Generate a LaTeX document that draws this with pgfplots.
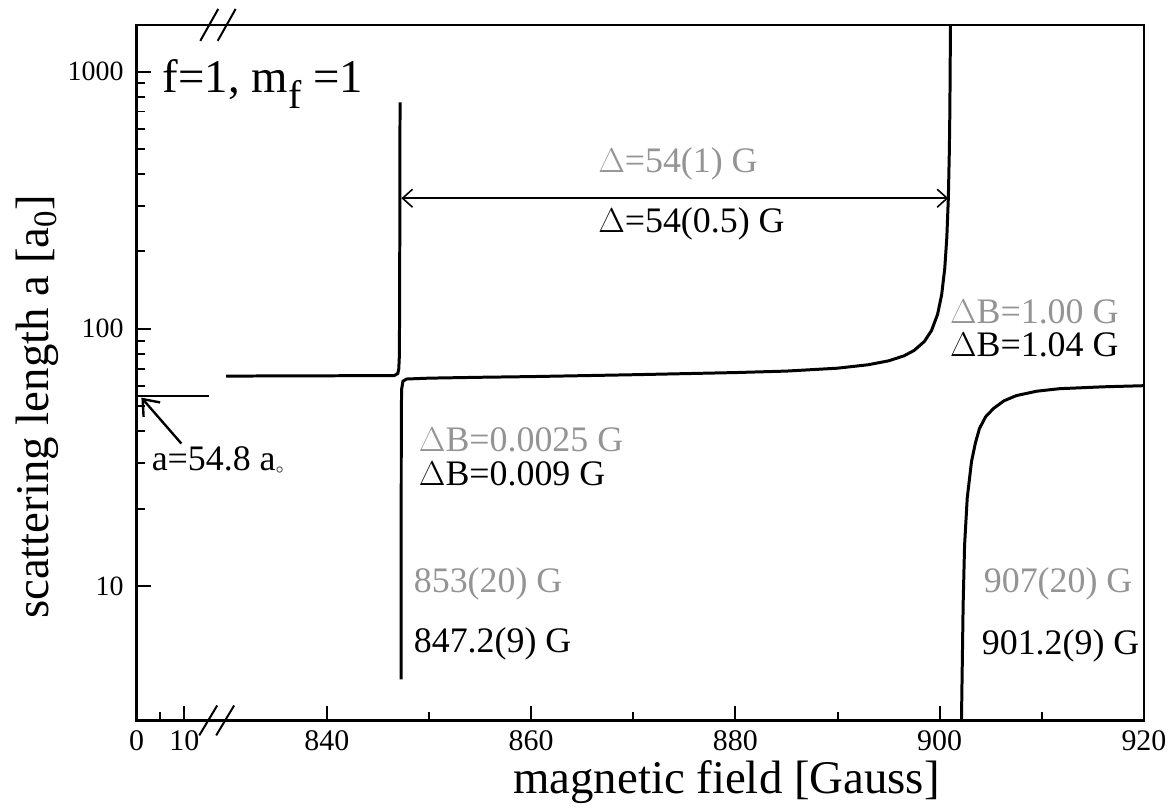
\documentclass[border=0pt]{standalone}
\usepackage{pgfplots}
\pgfplotsset{compat=1.18}
\usepackage{fontspec}
\setmainfont{Liberation Serif}
\usetikzlibrary{arrows.meta}
\newcommand{\annot}{\fontsize{18}{20}\selectfont}
\newcommand{\xl}[1]{\hbox{\fontsize{15}{17}\selectfont #1}}
\newcommand{\yl}[1]{\hbox{\fontsize{14}{16}\selectfont #1}}
\colorlet{ghost}{black!42}
\begin{document}
\begin{tikzpicture}
% x axis is broken: the left part (0..15 G) is drawn compressed,
% u = 821.37 + 0.468*B for B < 20 G; u = B beyond the break.
\begin{axis}[
  scale only axis, width=505.5pt, height=349pt,
  ymode=log, xmin=821.37, xmax=920, ymin=3, ymax=1520,
  axis line style={line width=1.3pt},
  xtick={821.37,826.05,840,860,880,900,920},
  xticklabels={\xl{0},\xl{10},\xl{840},\xl{860},\xl{880},\xl{900},\xl{920}},
  minor xtick={823.71,850,870,890,910},
  ytick={10,100,1000}, yticklabels={\yl{10},\yl{100},\yl{1000}},
  xtick pos=bottom, ytick pos=left,
  tick align=inside,
  major tick length=7.5pt, minor tick length=4.5pt,
  tick style={black, line width=1pt},
  /pgf/number format/assume math mode=true,
  xticklabel style={yshift=-1.5pt},
  yticklabel style={xshift=-3pt},
  xlabel={magnetic field [Gauss]},
  ylabel={scattering length a [a\textsubscript{0}]},
  xlabel style={font=\fontsize{23.5}{26}\selectfont, at={(axis description cs:0.5856,-0.088)}, anchor=center},
  ylabel style={font=\fontsize{23.5}{26}\selectfont, at={(axis description cs:-0.098,0.451)}, anchor=center},
  clip mode=individual,
]
% background scattering length below the break
\addplot[line width=1.5pt] coordinates {(821.37,54.8) (828.49,54.8)};
% branch left of the 847.2 G resonance
\addplot[line width=1.5pt] coordinates {
(830.15,65.5) (846.6,65.8) (846.95,67) (847.05,70) (847.1,78) (847.13,120) (847.15,300) (847.17,760)};
% branch between the two resonances
\addplot[line width=1.5pt] coordinates {
(847.28,4.33) (847.29,40) (847.32,58) (847.45,62.5) (847.8,63.8) (850,64.3) (855,64.8) (860,65.2)
(870,66.3) (880,67.6) (885,68.5) (890,70.3) (893,72.5) (895,75.1) (896.5,78.5) (897.5,82.4)
(898.5,89.3) (899.2,98.4) (899.8,114) (900.2,136) (900.5,172) (900.7,226) (900.85,322)
(900.95,495) (901.0,710) (901.05,1355) (901.07,2215)};
% branch right of the 901.2 G resonance
\addplot[line width=1.5pt] coordinates {
(902.13,2.9) (902.3,8.5) (902.44,14.4) (902.7,22) (903.12,30.5) (903.5,36) (903.9,41)
(904.5,45.5) (905.27,49) (906.3,52.5) (907.51,55) (909.5,57.2) (911.71,58.5) (916,59.5) (920,60.1)};

% axis break marks
\draw[line width=1pt] (rel axis cs:0.0722,1) ++(-4.5pt,-8pt) -- ++(9pt,16pt);
\draw[line width=1pt] (rel axis cs:0.0895,1) ++(-4.5pt,-8pt) -- ++(9pt,16pt);
\draw[line width=1pt] (rel axis cs:0.0712,0) ++(-4.5pt,-7.5pt) -- ++(9pt,15pt);
\draw[line width=1pt] (rel axis cs:0.0880,0) ++(-4.5pt,-7.5pt) -- ++(9pt,15pt);

% annotations
\node[anchor=base west, inner sep=0pt, font=\fontsize{23.5}{26}\selectfont] at (axis cs:823.9,829)
  {f=1, m\raisebox{-8pt}{\fontsize{20}{22}\selectfont f} =1};
\draw[line width=0.8pt, {Straight Barb[length=5pt,width=9pt]}-{Straight Barb[length=5pt,width=9pt]}]
  (axis cs:847.3,322) -- (axis cs:900.85,322);
\node[anchor=base west, inner sep=0pt, font=\annot, text=ghost] at (axis cs:866.54,406) {$\Delta$=54(1) G};
\node[anchor=base west, inner sep=0pt, font=\annot] at (axis cs:866.54,237.7) {$\Delta$=54(0.5) G};
\node[anchor=base west, inner sep=0pt, font=\annot, text=ghost] at (axis cs:900.98,104.6) {$\Delta$B=1.00 G};
\node[anchor=base west, inner sep=0pt, font=\annot] at (axis cs:900.98,77.9) {$\Delta$B=1.04 G};
\node[anchor=base west, inner sep=0pt, font=\annot, text=ghost] at (axis cs:848.98,33.4) {$\Delta$B=0.0025 G};
\node[anchor=base west, inner sep=0pt, font=\annot] at (axis cs:848.98,24.6) {$\Delta$B=0.009 G};
\node[anchor=base west, inner sep=0pt, font=\annot, text=ghost] at (axis cs:848.49,9.40) {853(20) G};
\node[anchor=base west, inner sep=0pt, font=\annot] at (axis cs:848.49,5.50) {847.2(9) G};
\node[anchor=base west, inner sep=0pt, font=\annot, text=ghost] at (axis cs:904.29,9.40) {907(20) G};
\node[anchor=base west, inner sep=0pt, font=\annot] at (axis cs:904.10,5.40) {901.2(9) G};
\draw[line width=1.2pt, -{Straight Barb[length=7pt,width=11pt]}] (axis cs:825.76,35.8) -- (axis cs:821.85,54.0);
\node[anchor=base west, inner sep=0pt, font=\annot] at (axis cs:822.83,28.2)
  {a=54.8 a\raisebox{-1.5pt}{\fontsize{7}{8}\selectfont$\circ$}};
% page extent
\path (rel axis cs:0,0) ++(-68.5pt,-45pt) (rel axis cs:1,1) ++(12.5pt,12.5pt);
\end{axis}
\end{tikzpicture}
\end{document}
